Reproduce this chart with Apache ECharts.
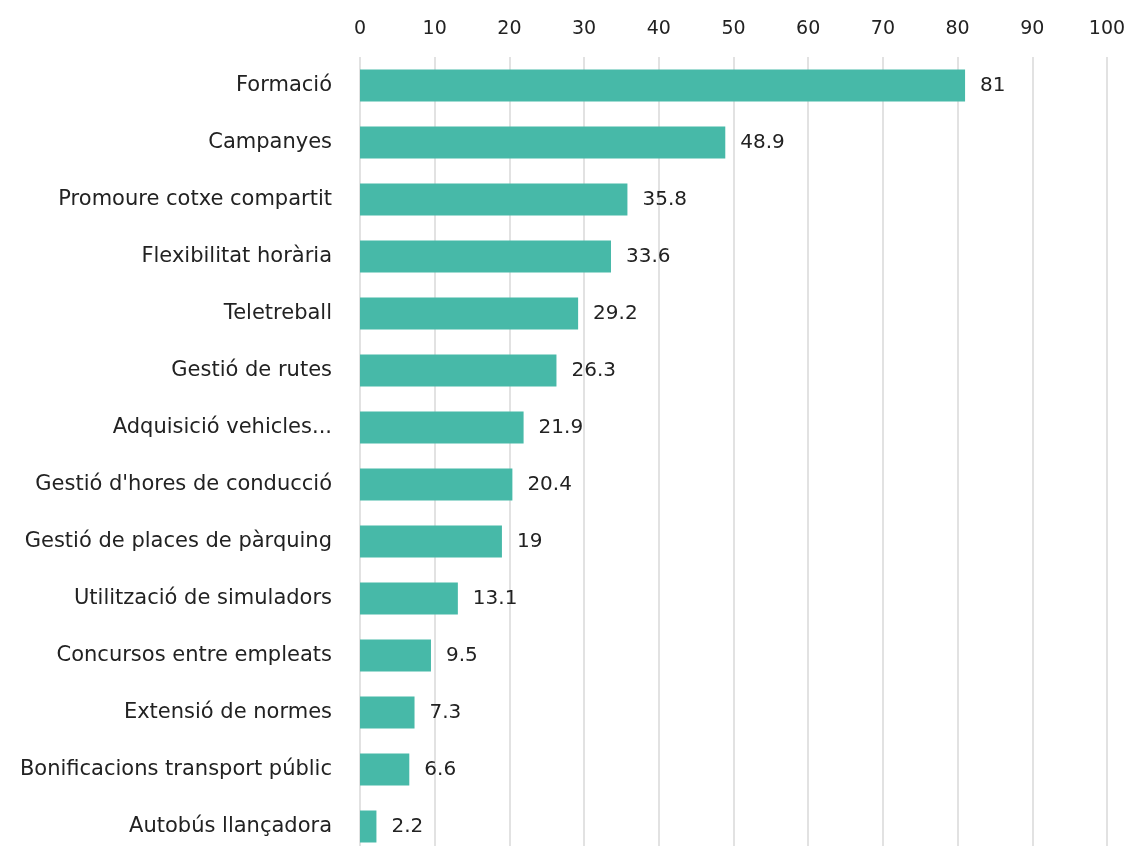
<!DOCTYPE html>
<html>
<head>
<meta charset="utf-8">
<style>
  html, body { margin: 0; padding: 0; background: #fff; }
  #chart { width: 1128px; height: 846px; }
</style>
<script src="https://cdn.jsdelivr.net/npm/echarts@6/dist/echarts.min.js"></script>
</head>
<body>
<div id="chart"></div>
<script>
var categories = [
  'Formació',
  'Campanyes',
  'Promoure cotxe compartit',
  'Flexibilitat horària',
  'Teletreball',
  'Gestió de rutes',
  'Adquisició vehicles...',
  "Gestió d'hores de conducció",
  'Gestió de places de pàrquing',
  'Utilització de simuladors',
  'Concursos entre empleats',
  'Extensió de normes',
  'Bonificacions transport públic',
  'Autobús llançadora'
];
var values = [81, 48.9, 35.8, 33.6, 29.2, 26.3, 21.9, 20.4, 19, 13.1, 9.5, 7.3, 6.6, 2.2];

var myChart = echarts.init(document.getElementById('chart'));

var font = 'DejaVu Sans';

var option = {
  animation: false,
  grid: { left: 360, right: 21, top: 57, height: 798, outerBoundsMode: 'none', containLabel: false },
  xAxis: {
    type: 'value',
    position: 'top',
    min: 0,
    max: 100,
    interval: 10,
    axisLine: { show: false },
    axisTick: { show: false },
    axisLabel: { color: '#222', fontFamily: font, fontSize: 19, margin: 18 },
    splitLine: { lineStyle: { color: '#e2e2e2', width: 2 } }
  },
  yAxis: {
    type: 'category',
    inverse: true,
    data: categories,
    axisLine: { show: false },
    axisTick: { show: false },
    axisLabel: { color: '#222', fontFamily: font, fontSize: 21, margin: 28 }
  },
  series: [{
    type: 'bar',
    data: values,
    barWidth: 32,
    itemStyle: { color: '#47b9a8' },
    label: {
      show: true,
      position: 'right',
      distance: 15,
      color: '#222',
      fontFamily: font,
      fontSize: 20
    }
  }]
};

myChart.setOption(option);
</script>
</body>
</html>
